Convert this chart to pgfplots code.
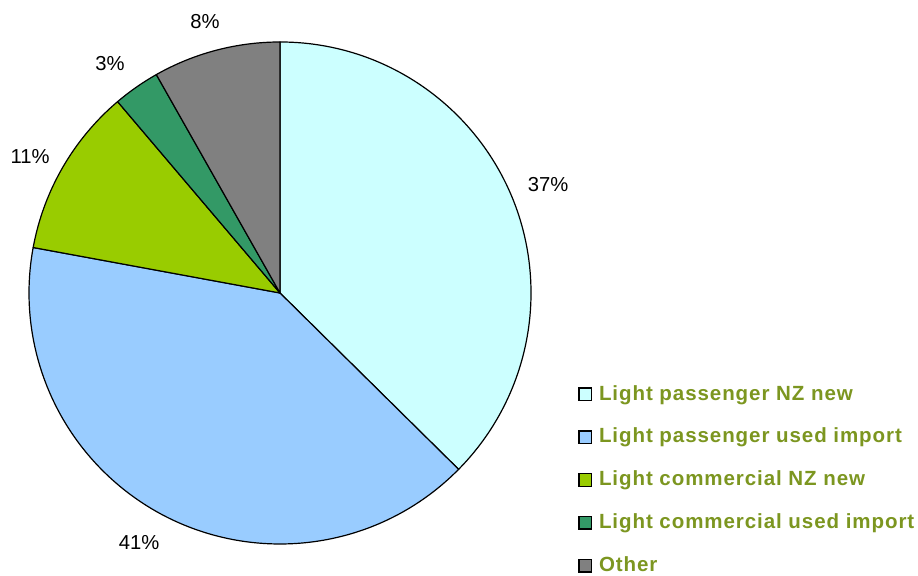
\documentclass[border=0pt]{standalone}
\usepackage{pgfplots}
\pgfplotsset{compat=1.18}
\usepackage{pgfplotstable}
\usepackage{fontspec}
\setmainfont{Liberation Sans}

\definecolor{pnew}{HTML}{CCFFFF}
\definecolor{pused}{HTML}{99CCFF}
\definecolor{cnew}{HTML}{99CC00}
\definecolor{cused}{HTML}{339966}
\definecolor{other}{HTML}{808080}
\definecolor{olivetext}{RGB}{124,150,32}

% share (%), slice colour, label position (px from left, px from bottom), label
\pgfplotstableread{
share col   lx  ly  lab
37.4  pnew  548 386 37
40.5  pused 139 28  41
10.9  cnew  30  414 11
3.0   cused 110 507 3
8.2   other 205 549 8
}\piedata

\begin{document}
\begin{tikzpicture}
\begin{axis}[
    x=1bp, y=1bp,
    xmin=0, xmax=918, ymin=0, ymax=571,
    hide axis, clip=false,
    legend style={
        at={(axis cs:578,186.5)}, anchor=north west,
        draw=none, fill=none, inner sep=0pt,
        row sep=23.3bp, column sep=7bp,
        font=\bfseries\fontsize{20.6}{24}\selectfont\addfontfeature{LetterSpace=4.5},
        text=olivetext,
        nodes={inner sep=0pt, text height=15.5bp, text depth=4bp},
    },
    legend cell align=left,
    legend image code/.code={\draw[#1] (0bp,-6.3bp) rectangle (12.5bp,6.3bp);},
    ]
\pgfplotsextra{
    \path (axis cs:0,0) rectangle (axis cs:918,571);
    \pgfplotstablegetrowsof{\piedata}
    \pgfmathtruncatemacro\lastrow{\pgfplotsretval-1}
    \gdef\startang{90}
    \foreach \i in {0,...,\lastrow}{
        \pgfplotstablegetelem{\i}{share}\of\piedata \let\sh\pgfplotsretval
        \pgfplotstablegetelem{\i}{col}\of\piedata \let\cc\pgfplotsretval
        \pgfplotstablegetelem{\i}{lx}\of\piedata \let\lx\pgfplotsretval
        \pgfplotstablegetelem{\i}{ly}\of\piedata \let\ly\pgfplotsretval
        \pgfplotstablegetelem{\i}{lab}\of\piedata \let\lab\pgfplotsretval
        \pgfmathsetmacro\endang{\startang-3.6*\sh}
        \filldraw[fill=\cc, draw=black, line width=1.2bp, line join=round]
            (axis cs:280,278) -- ++(\startang:251bp)
            arc[start angle=\startang, end angle=\endang, radius=251bp] -- cycle;
        \node[font=\fontsize{20.3}{24}\selectfont] at (axis cs:\lx,\ly) {\lab\%};
        \xdef\startang{\endang}
    }
}
\addlegendimage{fill=pnew, draw=black, line width=1.3bp}
\addlegendentry{Light passenger NZ new}
\addlegendimage{fill=pused, draw=black, line width=1.3bp}
\addlegendentry{Light passenger used import}
\addlegendimage{fill=cnew, draw=black, line width=1.3bp}
\addlegendentry{Light commercial NZ new}
\addlegendimage{fill=cused, draw=black, line width=1.3bp}
\addlegendentry{Light commercial used import}
\addlegendimage{fill=other, draw=black, line width=1.3bp}
\addlegendentry{Other}
\end{axis}
\end{tikzpicture}
\end{document}
